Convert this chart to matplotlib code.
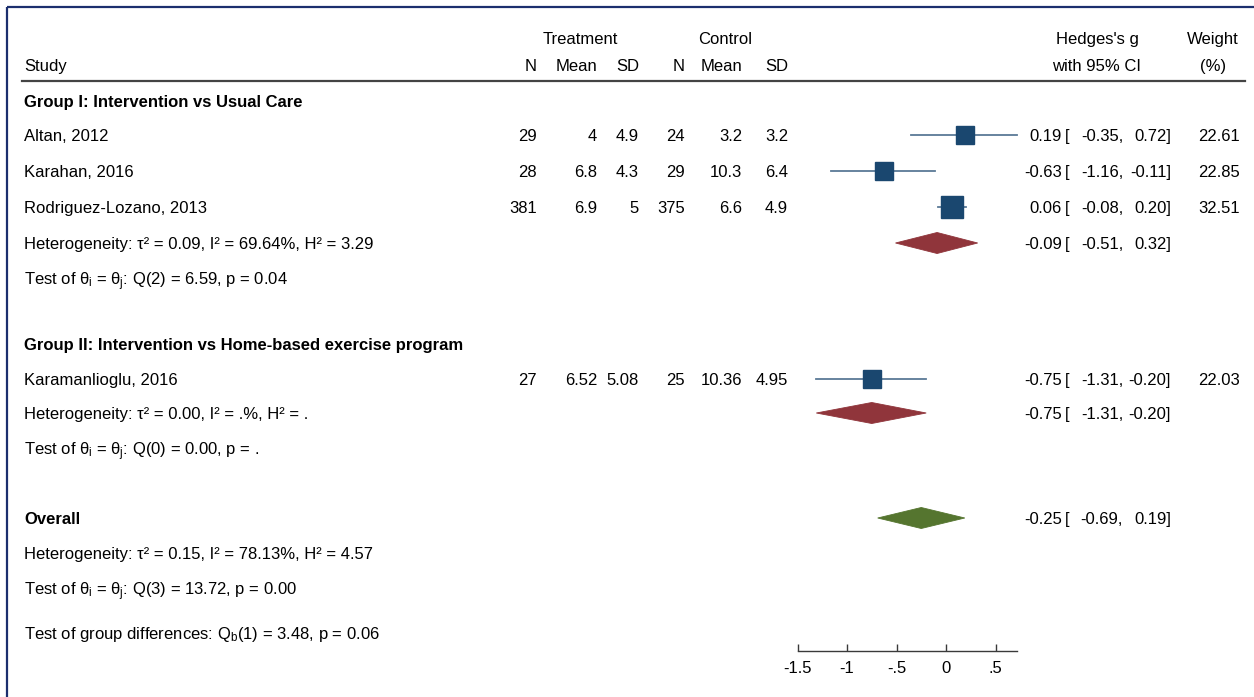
import matplotlib
matplotlib.use("Agg")
import matplotlib.pyplot as plt

plt.rcParams['font.family'] = ['Liberation Sans', 'DejaVu Sans']
plt.rcParams['mathtext.fontset'] = 'custom'
plt.rcParams['mathtext.rm'] = 'Liberation Sans'
plt.rcParams['mathtext.it'] = 'Liberation Sans'
plt.rcParams['mathtext.bf'] = 'Liberation Sans:bold'

# study-level data
studies = ["Altan, 2012", "Karahan, 2016", "Rodriguez-Lozano, 2013", "Karamanlioglu, 2016"]
t_n = [29, 28, 381, 27]
t_mean = [4, 6.8, 6.9, 6.52]
t_sd = [4.9, 4.3, 5, 5.08]
c_n = [24, 29, 375, 25]
c_mean = [3.2, 10.3, 6.6, 10.36]
c_sd = [3.2, 6.4, 4.9, 4.95]
g = [0.19, -0.63, 0.06, -0.75]
g_lo = [-0.35, -1.16, -0.08, -1.31]
g_hi = [0.72, -0.11, 0.20, -0.20]
weight = [22.61, 22.85, 32.51, 22.03]

# subgroup and overall pooled estimates
groups = ["Group I: Intervention vs Usual Care",
          "Group II: Intervention vs Home-based exercise program"]
sub_g = [-0.09, -0.75]
sub_lo = [-0.51, -1.31]
sub_hi = [0.32, -0.20]
sub_het = [r"Heterogeneity: τ² = 0.09, I² = 69.64%, H² = 3.29",
           r"Heterogeneity: τ² = 0.00, I² = .%, H² = ."]
sub_test = [r"Test of $θ_\mathrm{i}$ = $θ_\mathrm{j}$: Q(2) = 6.59, p = 0.04",
            r"Test of $θ_\mathrm{i}$ = $θ_\mathrm{j}$: Q(0) = 0.00, p = ."]
all_g, all_lo, all_hi = -0.25, -0.69, 0.19
all_het = "Heterogeneity: τ² = 0.15, I² = 78.13%, H² = 4.57"
all_test = r"Test of $θ_\mathrm{i}$ = $θ_\mathrm{j}$: Q(3) = 13.72, p = 0.00"
grp_test = r"Test of group differences: $\mathrm{Q_b}$(1) = 3.48, p = 0.06"
xticks = [-1.5, -1, -0.5, 0, 0.5]

# row layout (pixels from top)
y_group = [101, 344]
y_study = [135, 171, 207, 379]
y_diam = [243, 413]
y_test = [279, 449]
y_all, y_all_het, y_all_test, y_grp = 518, 553, 589, 633
y_axis = 651

navy = "#1a476f"
maroon = "#90353b"
green = "#55752f"
fs = 12

W, H = 1254, 697
fig = plt.figure(figsize=(W / 100, H / 100), dpi=100)
tab = fig.add_axes([0, 0, 1, 1])
tab.set_xlim(0, W)
tab.set_ylim(H, 0)
tab.axis("off")


def txt(x, y, s, ha="left", **kw):
    # rows are given by their centre line; text sits on a baseline below it
    tab.text(x, y + 6, s, ha=ha, va="baseline", fontsize=fs, **kw)


# forest panel
x_lo, x_hi = -1.7, 0.9
px0, px1 = 946 + x_lo * 99, 946 + x_hi * 99
ax = fig.add_axes([px0 / W, 0, (px1 - px0) / W, 1])
ax.set_xlim(x_lo, x_hi)
ax.set_ylim(H, 0)
ax.patch.set_visible(False)
for s in ["top", "left", "right"]:
    ax.spines[s].set_visible(False)
ax.spines["bottom"].set_position(("data", y_axis))
ax.spines["bottom"].set_bounds(-1.5, 0.72)
ax.spines["bottom"].set_color("#3a3a3a")
ax.spines["bottom"].set_linewidth(1.0)
ax.set_yticks([])
ax.set_xticks(xticks)
ax.set_xticklabels(["-1.5", "-1", "-.5", "0", ".5"])
ax.tick_params(axis="x", direction="in", length=5, width=1.0, color="#3a3a3a",
               labelsize=fs, pad=7)

# frame and header rule
tab.plot([7, W + 5], [7, 7], color="#1c2f6e", lw=1.6, solid_capstyle="butt")
tab.plot([7, 7], [7, H + 5], color="#1c2f6e", lw=1.6, solid_capstyle="butt")
tab.plot([22, 1245], [81, 81], color="#444444", lw=1.6)

# headers
txt(580, 38, "Treatment", ha="center")
txt(725, 38, "Control", ha="center")
txt(24, 65, "Study")
col_x = [537, 597, 639, 685, 742, 788]
for x, lab in zip(col_x, ["N", "Mean", "SD", "N", "Mean", "SD"]):
    txt(x, 65, lab, ha="right")
txt(1097, 38, "Hedges's g", ha="center")
txt(1097, 65, "with 95% CI", ha="center")
txt(1213, 38, "Weight", ha="center")
txt(1213, 65, "(%)", ha="center")


def ci_text(y, est, lo, hi):
    txt(1062, y, f"{est:.2f}", ha="right")
    txt(1065, y, "[")
    txt(1123, y, f"{lo:.2f},", ha="right")
    txt(1171, y, f"{hi:.2f}]", ha="right")


def diamond(y, est, lo, hi, color):
    ax.fill([lo, est, hi, est], [y, y - 10.5, y, y + 10.5],
            color=color, lw=0.6, ec=color)


# group headers
for y, name in zip(y_group, groups):
    txt(24, y, name, fontweight="bold")

# studies
for i, name in enumerate(studies):
    y = y_study[i]
    txt(24, y, name)
    vals = [t_n[i], t_mean[i], t_sd[i], c_n[i], c_mean[i], c_sd[i]]
    for x, v in zip(col_x, vals):
        txt(x, y, f"{v:g}", ha="right")
    ci_text(y, g[i], g_lo[i], g_hi[i])
    txt(1240, y, f"{weight[i]:.2f}", ha="right")
    ax.plot([g_lo[i], g_hi[i]], [y, y], color="#5b7a96", lw=1.3, zorder=2)
    side = 2.75 * weight[i] ** 0.5
    ax.plot(g[i], y, marker="s", ms=side, color=navy, mec=navy, zorder=3)

# subgroup summaries
for k in range(2):
    txt(24, y_diam[k], sub_het[k])
    txt(24, y_test[k], sub_test[k])
    ci_text(y_diam[k], sub_g[k], sub_lo[k], sub_hi[k])
    diamond(y_diam[k], sub_g[k], sub_lo[k], sub_hi[k], maroon)

# overall
txt(24, y_all, "Overall", fontweight="bold")
txt(24, y_all_het, all_het)
txt(24, y_all_test, all_test)
txt(24, y_grp, grp_test)
ci_text(y_all, all_g, all_lo, all_hi)
diamond(y_all, all_g, all_lo, all_hi, green)

fig.savefig("out.png", dpi=100, facecolor="white")
